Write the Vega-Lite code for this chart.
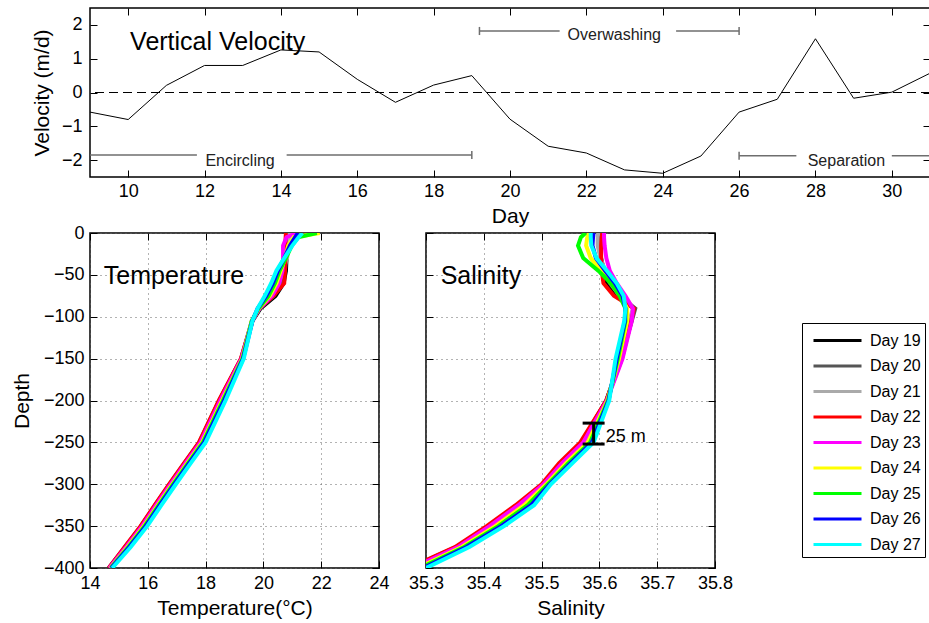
{
"$schema": "https://vega.github.io/schema/vega-lite/v6.json",
"padding": {"left": 10, "top": 6, "right": 0, "bottom": 0},
"background": "white",
"config": {
  "font": "Liberation Sans",
  "view": {"stroke": "black", "strokeWidth": 1.5},
  "axis": {"domain": false, "tickColor": "black", "tickSize": -7, "labelFontSize": 18, "labelColor": "black", "titleFontSize": 21, "titleFontWeight": "normal", "titleColor": "black", "grid": false, "labelFlush": false, "labelOverlap": false, "labelPadding": 13},
  "legend": {"labelFontSize": 16, "labelColor": "black", "labelFont": "Liberation Sans"}
},
"datasets": {
  "vel": [
    {"day": 9, "v": -0.58}, {"day": 10, "v": -0.8}, {"day": 11, "v": 0.21}, {"day": 12, "v": 0.8}, {"day": 13, "v": 0.8}, {"day": 14, "v": 1.26}, {"day": 15, "v": 1.2}, {"day": 16, "v": 0.39}, {"day": 17, "v": -0.29}, {"day": 18, "v": 0.22}, {"day": 19, "v": 0.5}, {"day": 20, "v": -0.79}, {"day": 21, "v": -1.59}, {"day": 22, "v": -1.79}, {"day": 23, "v": -2.29}, {"day": 24, "v": -2.39}, {"day": 25, "v": -1.88}, {"day": 26, "v": -0.58}, {"day": 27, "v": -0.2}, {"day": 28, "v": 1.59}, {"day": 29, "v": -0.17}, {"day": 30, "v": 0.01}, {"day": 31, "v": 0.57}
  ],
  "segs": [
    {"x1": 9, "x2": 11.8, "y": -1.85}, {"x1": 14.15, "x2": 19, "y": -1.85},
    {"x1": 19.2, "x2": 21.3, "y": 1.82}, {"x1": 24.35, "x2": 26, "y": 1.82},
    {"x1": 26, "x2": 27.5, "y": -1.87}, {"x1": 30.0, "x2": 31, "y": -1.87}
  ],
  "caps": [
    {"x": 19, "y1": -1.97, "y2": -1.73}, {"x": 19.2, "y1": 1.7, "y2": 1.94},
    {"x": 26, "y1": 1.7, "y2": 1.94}, {"x": 26, "y1": -1.99, "y2": -1.75}
  ],
  "phases": [
    {"x": 12.93, "y": -2.18, "label": "Encircling"},
    {"x": 22.73, "y": 1.56, "label": "Overwashing"},
    {"x": 28.81, "y": -2.18, "label": "Separation"}
  ],
  "prof": [
    {"day":"Day 19","z":0,"t":20.82,"s":35.6},{"day":"Day 19","z":-5,"t":20.82,"s":35.6},{"day":"Day 19","z":-15,"t":20.81,"s":35.6},{"day":"Day 19","z":-30,"t":20.8,"s":35.603},{"day":"Day 19","z":-45,"t":20.78,"s":35.607},{"day":"Day 19","z":-60,"t":20.7,"s":35.613},{"day":"Day 19","z":-75,"t":20.42,"s":35.63},{"day":"Day 19","z":-90,"t":19.9,"s":35.66},{"day":"Day 19","z":-105,"t":19.62,"s":35.655},{"day":"Day 19","z":-150,"t":19.24,"s":35.638},{"day":"Day 19","z":-200,"t":18.49,"s":35.612},{"day":"Day 19","z":-250,"t":17.8,"s":35.569},{"day":"Day 19","z":-275,"t":17.28,"s":35.532},{"day":"Day 19","z":-300,"t":16.77,"s":35.502},{"day":"Day 19","z":-325,"t":16.27,"s":35.458},{"day":"Day 19","z":-350,"t":15.78,"s":35.408},{"day":"Day 19","z":-375,"t":15.23,"s":35.352},{"day":"Day 19","z":-400,"t":14.66,"s":35.272},
    {"day":"Day 20","z":0,"t":20.85,"s":35.601},{"day":"Day 20","z":-5,"t":20.84,"s":35.6},{"day":"Day 20","z":-15,"t":20.82,"s":35.599},{"day":"Day 20","z":-30,"t":20.8,"s":35.602},{"day":"Day 20","z":-45,"t":20.74,"s":35.609},{"day":"Day 20","z":-60,"t":20.62,"s":35.618},{"day":"Day 20","z":-75,"t":20.36,"s":35.635},{"day":"Day 20","z":-90,"t":19.88,"s":35.662},{"day":"Day 20","z":-105,"t":19.6,"s":35.656},{"day":"Day 20","z":-150,"t":19.23,"s":35.637},{"day":"Day 20","z":-200,"t":18.47,"s":35.612},{"day":"Day 20","z":-250,"t":17.78,"s":35.571},{"day":"Day 20","z":-275,"t":17.26,"s":35.534},{"day":"Day 20","z":-300,"t":16.75,"s":35.503},{"day":"Day 20","z":-325,"t":16.25,"s":35.46},{"day":"Day 20","z":-350,"t":15.76,"s":35.41},{"day":"Day 20","z":-375,"t":15.21,"s":35.355},{"day":"Day 20","z":-400,"t":14.65,"s":35.275},
    {"day":"Day 21","z":0,"t":20.9,"s":35.598},{"day":"Day 21","z":-5,"t":20.9,"s":35.597},{"day":"Day 21","z":-15,"t":20.88,"s":35.597},{"day":"Day 21","z":-30,"t":20.82,"s":35.602},{"day":"Day 21","z":-45,"t":20.68,"s":35.61},{"day":"Day 21","z":-60,"t":20.52,"s":35.62},{"day":"Day 21","z":-75,"t":20.3,"s":35.635},{"day":"Day 21","z":-90,"t":19.86,"s":35.658},{"day":"Day 21","z":-105,"t":19.6,"s":35.652},{"day":"Day 21","z":-150,"t":19.25,"s":35.636},{"day":"Day 21","z":-200,"t":18.52,"s":35.613},{"day":"Day 21","z":-250,"t":17.83,"s":35.573},{"day":"Day 21","z":-275,"t":17.31,"s":35.537},{"day":"Day 21","z":-300,"t":16.8,"s":35.505},{"day":"Day 21","z":-325,"t":16.3,"s":35.463},{"day":"Day 21","z":-350,"t":15.81,"s":35.413},{"day":"Day 21","z":-375,"t":15.26,"s":35.357},{"day":"Day 21","z":-400,"t":14.68,"s":35.278},
    {"day":"Day 22","z":0,"t":20.78,"s":35.605},{"day":"Day 22","z":-5,"t":20.77,"s":35.604},{"day":"Day 22","z":-15,"t":20.76,"s":35.603},{"day":"Day 22","z":-30,"t":20.76,"s":35.603},{"day":"Day 22","z":-45,"t":20.75,"s":35.604},{"day":"Day 22","z":-60,"t":20.72,"s":35.607},{"day":"Day 22","z":-75,"t":20.35,"s":35.625},{"day":"Day 22","z":-90,"t":19.85,"s":35.66},{"day":"Day 22","z":-105,"t":19.62,"s":35.655},{"day":"Day 22","z":-150,"t":19.22,"s":35.639},{"day":"Day 22","z":-200,"t":18.46,"s":35.612},{"day":"Day 22","z":-250,"t":17.77,"s":35.567},{"day":"Day 22","z":-275,"t":17.25,"s":35.53},{"day":"Day 22","z":-300,"t":16.74,"s":35.5},{"day":"Day 22","z":-325,"t":16.24,"s":35.455},{"day":"Day 22","z":-350,"t":15.75,"s":35.405},{"day":"Day 22","z":-375,"t":15.2,"s":35.35},{"day":"Day 22","z":-400,"t":14.65,"s":35.27},
    {"day":"Day 23","z":0,"t":21.15,"s":35.608},{"day":"Day 23","z":-5,"t":20.8,"s":35.608},{"day":"Day 23","z":-15,"t":20.68,"s":35.609},{"day":"Day 23","z":-30,"t":20.68,"s":35.612},{"day":"Day 23","z":-45,"t":20.66,"s":35.618},{"day":"Day 23","z":-60,"t":20.55,"s":35.63},{"day":"Day 23","z":-75,"t":20.3,"s":35.645},{"day":"Day 23","z":-90,"t":19.86,"s":35.658},{"day":"Day 23","z":-105,"t":19.61,"s":35.656},{"day":"Day 23","z":-150,"t":19.24,"s":35.64},{"day":"Day 23","z":-200,"t":18.51,"s":35.613},{"day":"Day 23","z":-250,"t":17.82,"s":35.572},{"day":"Day 23","z":-275,"t":17.3,"s":35.535},{"day":"Day 23","z":-300,"t":16.79,"s":35.503},{"day":"Day 23","z":-325,"t":16.29,"s":35.46},{"day":"Day 23","z":-350,"t":15.8,"s":35.41},{"day":"Day 23","z":-375,"t":15.25,"s":35.355},{"day":"Day 23","z":-400,"t":14.67,"s":35.276},
    {"day":"Day 24","z":0,"t":21.95,"s":35.582},{"day":"Day 24","z":-5,"t":21.05,"s":35.579},{"day":"Day 24","z":-15,"t":20.86,"s":35.577},{"day":"Day 24","z":-30,"t":20.75,"s":35.585},{"day":"Day 24","z":-45,"t":20.6,"s":35.603},{"day":"Day 24","z":-60,"t":20.45,"s":35.62},{"day":"Day 24","z":-75,"t":20.22,"s":35.636},{"day":"Day 24","z":-90,"t":19.84,"s":35.648},{"day":"Day 24","z":-105,"t":19.6,"s":35.648},{"day":"Day 24","z":-150,"t":19.27,"s":35.634},{"day":"Day 24","z":-200,"t":18.57,"s":35.614},{"day":"Day 24","z":-250,"t":17.88,"s":35.58},{"day":"Day 24","z":-275,"t":17.36,"s":35.542},{"day":"Day 24","z":-300,"t":16.85,"s":35.508},{"day":"Day 24","z":-325,"t":16.35,"s":35.47},{"day":"Day 24","z":-350,"t":15.86,"s":35.42},{"day":"Day 24","z":-375,"t":15.3,"s":35.362},{"day":"Day 24","z":-400,"t":14.71,"s":35.285},
    {"day":"Day 25","z":0,"t":21.85,"s":35.576},{"day":"Day 25","z":-5,"t":21.2,"s":35.568},{"day":"Day 25","z":-15,"t":20.98,"s":35.563},{"day":"Day 25","z":-30,"t":20.78,"s":35.572},{"day":"Day 25","z":-45,"t":20.56,"s":35.598},{"day":"Day 25","z":-60,"t":20.4,"s":35.62},{"day":"Day 25","z":-75,"t":20.18,"s":35.635},{"day":"Day 25","z":-90,"t":19.83,"s":35.645},{"day":"Day 25","z":-105,"t":19.6,"s":35.645},{"day":"Day 25","z":-150,"t":19.28,"s":35.632},{"day":"Day 25","z":-200,"t":18.6,"s":35.615},{"day":"Day 25","z":-250,"t":17.91,"s":35.584},{"day":"Day 25","z":-275,"t":17.39,"s":35.546},{"day":"Day 25","z":-300,"t":16.88,"s":35.511},{"day":"Day 25","z":-325,"t":16.38,"s":35.476},{"day":"Day 25","z":-350,"t":15.89,"s":35.425},{"day":"Day 25","z":-375,"t":15.33,"s":35.366},{"day":"Day 25","z":-400,"t":14.72,"s":35.29},
    {"day":"Day 26","z":0,"t":21.2,"s":35.59},{"day":"Day 26","z":-5,"t":21.1,"s":35.589},{"day":"Day 26","z":-15,"t":20.92,"s":35.588},{"day":"Day 26","z":-30,"t":20.72,"s":35.594},{"day":"Day 26","z":-45,"t":20.5,"s":35.61},{"day":"Day 26","z":-60,"t":20.33,"s":35.627},{"day":"Day 26","z":-75,"t":20.1,"s":35.64},{"day":"Day 26","z":-90,"t":19.8,"s":35.645},{"day":"Day 26","z":-105,"t":19.62,"s":35.644},{"day":"Day 26","z":-150,"t":19.3,"s":35.63},{"day":"Day 26","z":-200,"t":18.64,"s":35.616},{"day":"Day 26","z":-250,"t":17.95,"s":35.587},{"day":"Day 26","z":-275,"t":17.43,"s":35.55},{"day":"Day 26","z":-300,"t":16.92,"s":35.514},{"day":"Day 26","z":-325,"t":16.42,"s":35.482},{"day":"Day 26","z":-350,"t":15.93,"s":35.43},{"day":"Day 26","z":-375,"t":15.36,"s":35.37},{"day":"Day 26","z":-400,"t":14.74,"s":35.295},
    {"day":"Day 27","z":0,"t":21.35,"s":35.585},{"day":"Day 27","z":-5,"t":21.22,"s":35.585},{"day":"Day 27","z":-15,"t":21.0,"s":35.586},{"day":"Day 27","z":-30,"t":20.72,"s":35.595},{"day":"Day 27","z":-45,"t":20.45,"s":35.613},{"day":"Day 27","z":-60,"t":20.27,"s":35.63},{"day":"Day 27","z":-75,"t":20.05,"s":35.642},{"day":"Day 27","z":-90,"t":19.8,"s":35.645},{"day":"Day 27","z":-105,"t":19.62,"s":35.643},{"day":"Day 27","z":-150,"t":19.32,"s":35.628},{"day":"Day 27","z":-200,"t":18.69,"s":35.617},{"day":"Day 27","z":-250,"t":18.0,"s":35.59},{"day":"Day 27","z":-275,"t":17.48,"s":35.553},{"day":"Day 27","z":-300,"t":16.97,"s":35.516},{"day":"Day 27","z":-325,"t":16.47,"s":35.487},{"day":"Day 27","z":-350,"t":15.98,"s":35.435},{"day":"Day 27","z":-375,"t":15.41,"s":35.375},{"day":"Day 27","z":-400,"t":14.77,"s":35.3}
  ]
},
"spacing": 56,
"bounds": "flush",
"vconcat": [
  {
    "width": 840, "height": 169,
    "layer": [
      {
        "data": {"name": "vel"},
        "mark": {"type": "line", "color": "black", "strokeWidth": 1},
        "encoding": {
          "x": {"field": "day", "type": "quantitative", "scale": {"domain": [9, 31], "nice": false},
                "axis": {"orient": "bottom", "title": "Day", "values": [10,12,14,16,18,20,22,24,26,28,30], "labelPadding": 12, "titlePadding": 5}},
          "y": {"field": "v", "type": "quantitative", "scale": {"domain": [-2.5, 2.5], "nice": false},
                "axis": {"orient": "left", "title": "Velocity (m/d)", "values": [-2,-1,0,1,2], "labelPadding": 15, "titlePadding": 9}}
        }
      },
      {
        "data": {"values": [{"v": 0}]},
        "mark": {"type": "rule", "color": "black", "strokeWidth": 1, "strokeDash": [9, 5]},
        "encoding": {
          "y": {"field": "v", "type": "quantitative", "scale": {"domain": [-2.5, 2.5], "nice": false},
                "axis": {"orient": "right", "labels": false, "title": null, "values": [-2,-1,0,1,2]}}
        }
      },
      {
        "data": {"name": "segs"},
        "mark": {"type": "rule", "color": "#6e6e6e", "strokeWidth": 1.5},
        "encoding": {
          "x": {"field": "x1", "type": "quantitative", "scale": {"domain": [9, 31], "nice": false},
                "axis": {"orient": "top", "labels": false, "title": null, "values": [10,12,14,16,18,20,22,24,26,28,30]}},
          "x2": {"field": "x2"},
          "y": {"field": "y", "type": "quantitative", "axis": null}
        }
      },
      {
        "data": {"name": "caps"},
        "mark": {"type": "rule", "color": "#6e6e6e", "strokeWidth": 1.5},
        "encoding": {
          "x": {"field": "x", "type": "quantitative", "axis": null},
          "y": {"field": "y1", "type": "quantitative", "axis": null},
          "y2": {"field": "y2"}
        }
      },
      {
        "data": {"name": "phases"},
        "mark": {"type": "text", "fontSize": 16, "color": "#222222", "align": "center", "baseline": "alphabetic"},
        "encoding": {
          "x": {"field": "x", "type": "quantitative", "axis": null},
          "y": {"field": "y", "type": "quantitative", "axis": null},
          "text": {"field": "label"}
        }
      },
      {
        "data": {"values": [{"x": 10.05, "y": 1.25, "label": "Vertical Velocity"}]},
        "mark": {"type": "text", "fontSize": 25, "color": "black", "align": "left", "baseline": "alphabetic"},
        "encoding": {
          "x": {"field": "x", "type": "quantitative", "axis": null},
          "y": {"field": "y", "type": "quantitative", "axis": null},
          "text": {"field": "label"}
        }
      }
    ]
  },
  {
    "spacing": 47,
    "bounds": "flush",
    "hconcat": [
      {
        "width": 289, "height": 335,
        "layer": [
          {
            "data": {"name": "prof"},
            "mark": {"type": "line", "strokeWidth": 4, "clip": true},
            "encoding": {
              "x": {"field": "t", "type": "quantitative", "scale": {"domain": [14, 24], "nice": false},
                    "axis": {"orient": "bottom", "title": "Temperature(°C)", "values": [14,16,18,20,22,24], "grid": true, "gridDash": [1, 4], "gridColor": "#666666", "labelPadding": 13, "titlePadding": 5}},
              "y": {"field": "z", "type": "quantitative", "scale": {"domain": [-400, 0], "nice": false},
                    "axis": {"orient": "left", "title": "Depth", "values": [-400,-350,-300,-250,-200,-150,-100,-50,0], "grid": true, "gridDash": [1, 4], "gridColor": "#666666", "labelPadding": 13, "titlePadding": 11}},
              "color": {"field": "day", "type": "nominal",
                        "scale": {"domain": ["Day 19","Day 20","Day 21","Day 22","Day 23","Day 24","Day 25","Day 26","Day 27"], "range": ["#000000","#555555","#aaaaaa","#ff0000","#ff00ff","#ffff00","#00ff00","#0000ff","#00ffff"]},
                        "legend": {"title": null, "orient": "none", "legendX": 712, "legendY": 315, "symbolType": "M-2,0H2", "symbolSize": 576, "symbolStrokeWidth": 3, "padding": 4, "rowPadding": 3.5, "symbolOffset": 18, "labelOffset": 19, "strokeColor": "black", "fillColor": "white"}},
              "order": {"field": "z", "type": "quantitative"}
            }
          },
          {
            "data": {"values": [{"x": 14.48, "y": -60.5, "label": "Temperature"}]},
            "mark": {"type": "text", "fontSize": 25, "color": "black", "align": "left", "baseline": "alphabetic"},
            "encoding": {
              "x": {"field": "x", "type": "quantitative", "axis": {"orient": "top", "labels": false, "title": null, "values": [14,16,18,20,22,24]}},
              "y": {"field": "y", "type": "quantitative", "axis": {"orient": "right", "labels": false, "title": null, "values": [-400,-350,-300,-250,-200,-150,-100,-50,0]}},
              "text": {"field": "label"}
            }
          }
        ]
      },
      {
        "width": 289, "height": 335,
        "layer": [
          {
            "data": {"name": "prof"},
            "mark": {"type": "line", "strokeWidth": 4, "clip": true},
            "encoding": {
              "x": {"field": "s", "type": "quantitative", "scale": {"domain": [35.3, 35.8], "nice": false},
                    "axis": {"orient": "bottom", "title": "Salinity", "values": [35.3,35.4,35.5,35.6,35.7,35.8], "format": ".1f", "grid": true, "gridDash": [1, 4], "gridColor": "#666666", "labelPadding": 13, "titlePadding": 5}},
              "y": {"field": "z", "type": "quantitative", "scale": {"domain": [-400, 0], "nice": false},
                    "axis": {"orient": "left", "labels": false, "title": null, "values": [-400,-350,-300,-250,-200,-150,-100,-50,0], "grid": true, "gridDash": [1, 4], "gridColor": "#666666"}},
              "color": {"field": "day", "type": "nominal",
                        "scale": {"domain": ["Day 19","Day 20","Day 21","Day 22","Day 23","Day 24","Day 25","Day 26","Day 27"], "range": ["#000000","#555555","#aaaaaa","#ff0000","#ff00ff","#ffff00","#00ff00","#0000ff","#00ffff"]},
                        "legend": {"title": null, "orient": "none", "legendX": 712, "legendY": 315, "symbolType": "M-2,0H2", "symbolSize": 576, "symbolStrokeWidth": 3, "padding": 4, "rowPadding": 3.5, "symbolOffset": 18, "labelOffset": 19, "strokeColor": "black", "fillColor": "white"}},
              "order": {"field": "z", "type": "quantitative"}
            }
          },
          {
            "data": {"values": [{"s": 35.59, "z1": -227, "z2": -252}]},
            "mark": {"type": "rule", "color": "black", "strokeWidth": 3},
            "encoding": {
              "x": {"field": "s", "type": "quantitative", "axis": {"orient": "top", "labels": false, "title": null, "values": [35.3,35.4,35.5,35.6,35.7,35.8]}},
              "y": {"field": "z1", "type": "quantitative", "axis": {"orient": "right", "labels": false, "title": null, "values": [-400,-350,-300,-250,-200,-150,-100,-50,0]}},
              "y2": {"field": "z2"}
            }
          },
          {
            "data": {"values": [{"s1": 35.571, "s2": 35.609, "z": -227}, {"s1": 35.571, "s2": 35.609, "z": -252}]},
            "mark": {"type": "rule", "color": "black", "strokeWidth": 3},
            "encoding": {
              "x": {"field": "s1", "type": "quantitative", "axis": null},
              "x2": {"field": "s2"},
              "y": {"field": "z", "type": "quantitative", "axis": null}
            }
          },
          {
            "data": {"values": [{"x": 35.3254, "y": -60.5, "label": "Salinity"}, {"x": 35.611, "y": -249.6, "label": "25 m"}]},
            "mark": {"type": "text", "color": "black", "align": "left", "baseline": "alphabetic"},
            "encoding": {
              "x": {"field": "x", "type": "quantitative", "axis": null},
              "y": {"field": "y", "type": "quantitative", "axis": null},
              "text": {"field": "label"},
              "size": {"field": "label", "type": "nominal", "scale": {"domain": ["Salinity", "25 m"], "range": [25, 18]}, "legend": null}
            }
          }
        ]
      }
    ]
  }
]
}
